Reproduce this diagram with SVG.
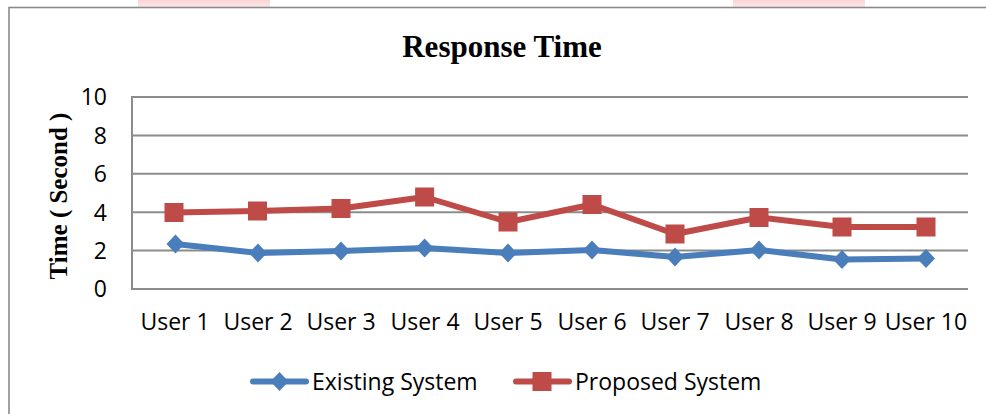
<svg xmlns="http://www.w3.org/2000/svg" width="986" height="414" viewBox="0 0 986 414">
  <defs>
    <linearGradient id="pinkFade" x1="0" y1="0" x2="0" y2="1">
      <stop offset="0" stop-color="#fbd3d3"/>
      <stop offset="1" stop-color="#fde9e9"/>
    </linearGradient>
    <path id="diamond" d="M0,-9.5 L9,0 L0,9.5 L-9,0 Z"/>
    <rect id="square" x="-9.5" y="-9.5" width="19" height="19"/>
  </defs>
  <style>
    .frame { fill: #ffffff; stroke: #8a8a8a; stroke-width: 1.6; }
    .grid { stroke: #8c8c8c; stroke-width: 2; fill: none; }
    .tick { font-family: "Open Sans", "Liberation Sans", sans-serif; font-size: 23px; fill: #000; }
    .title { font-family: "Liberation Serif", "Times New Roman", serif; font-weight: bold; fill: #000; }
    .existing-line { fill: none; stroke: #4a7ebb; stroke-width: 6; stroke-linejoin: round; stroke-linecap: round; }
    .proposed-line { fill: none; stroke: #be4b48; stroke-width: 6; stroke-linejoin: round; stroke-linecap: round; }
    .existing-mark { fill: #4a7ebb; }
    .proposed-mark { fill: #be4b48; }
  </style>

  <rect width="986" height="414" fill="#ffffff"/>
  <!-- faint tint strips above the chart frame -->
  <rect x="138" y="0" width="132" height="7" fill="url(#pinkFade)"/>
  <rect x="733" y="0" width="132" height="7" fill="url(#pinkFade)"/>

  <!-- chart frame -->
  <rect class="frame" x="9" y="7.5" width="990" height="420"/>

  <!-- title -->
  <g id="title">
    <text class="title" x="502" y="57" font-size="31" text-anchor="middle">Response Time</text>
  </g>

  <!-- plot area: gridlines and axis -->
  <g id="plot-grid">
    <line class="grid" x1="132" y1="97" x2="968" y2="97"/>
    <line class="grid" x1="132" y1="135.4" x2="968" y2="135.4"/>
    <line class="grid" x1="132" y1="173.8" x2="968" y2="173.8"/>
    <line class="grid" x1="132" y1="212.2" x2="968" y2="212.2"/>
    <line class="grid" x1="132" y1="250.6" x2="968" y2="250.6"/>
    <line class="grid" x1="132" y1="289" x2="968" y2="289"/>
    <line class="grid" x1="132" y1="96" x2="132" y2="290"/>
  </g>

  <!-- y-axis tick labels -->
  <g id="y-axis">
    <text class="tick" x="107" y="105" text-anchor="end">10</text>
    <text class="tick" x="107" y="143.5" text-anchor="end">8</text>
    <text class="tick" x="107" y="182" text-anchor="end">6</text>
    <text class="tick" x="107" y="220.5" text-anchor="end">4</text>
    <text class="tick" x="107" y="258.5" text-anchor="end">2</text>
    <text class="tick" x="107" y="297" text-anchor="end">0</text>
    <text class="title" font-size="25" text-anchor="middle" transform="translate(67,196) rotate(-90)">Time ( Second )</text>
  </g>

  <!-- x-axis category labels -->
  <g id="x-axis" class="tick" text-anchor="middle">
    <text x="175" y="330">User 1</text>
    <text x="258" y="330">User 2</text>
    <text x="341" y="330">User 3</text>
    <text x="425" y="330">User 4</text>
    <text x="508" y="330">User 5</text>
    <text x="592" y="330">User 6</text>
    <text x="675" y="330">User 7</text>
    <text x="759" y="330">User 8</text>
    <text x="842" y="330">User 9</text>
    <text x="926" y="330">User 10</text>
  </g>

  <!-- data series -->
  <g id="connectors">
    <polyline id="existing-series" class="existing-line" points="175.5,244 258,253 341,251 424.6,248 508,253 592,250 675,257 759,250 842,259.5 926,258.5"/>
    <polyline id="proposed-series" class="proposed-line" points="174,212.5 257.5,211 341,208.5 424.6,197 508,222 592,204.5 675,234 759,217.5 842,227 926,227"/>
  </g>

  <g id="existing-markers" class="existing-mark">
    <use href="#diamond" x="175.5" y="244"/>
    <use href="#diamond" x="258" y="253"/>
    <use href="#diamond" x="341" y="251"/>
    <use href="#diamond" x="424.6" y="248"/>
    <use href="#diamond" x="508" y="253"/>
    <use href="#diamond" x="592" y="250"/>
    <use href="#diamond" x="675" y="257"/>
    <use href="#diamond" x="759" y="250"/>
    <use href="#diamond" x="842" y="259.5"/>
    <use href="#diamond" x="926" y="258.5"/>
  </g>

  <g id="proposed-markers" class="proposed-mark">
    <use href="#square" x="174" y="212.5"/>
    <use href="#square" x="257.5" y="211"/>
    <use href="#square" x="341" y="208.5"/>
    <use href="#square" x="424.6" y="197"/>
    <use href="#square" x="508" y="222"/>
    <use href="#square" x="592" y="204.5"/>
    <use href="#square" x="675" y="234"/>
    <use href="#square" x="759" y="217.5"/>
    <use href="#square" x="842" y="227"/>
    <use href="#square" x="926" y="227"/>
  </g>

  <!-- legend -->
  <g id="legend-existing">
    <line class="existing-line" x1="253" y1="381.5" x2="306" y2="381.5" stroke-width="5"/>
    <use href="#diamond" class="existing-mark" x="279.5" y="381.5"/>
    <text class="tick" x="312" y="390">Existing System</text>
  </g>
  <g id="legend-proposed">
    <line class="proposed-line" x1="516" y1="381.5" x2="569" y2="381.5" stroke-width="5"/>
    <use href="#square" class="proposed-mark" x="542" y="381.5"/>
    <text class="tick" x="575" y="390">Proposed System</text>
  </g>
</svg>
